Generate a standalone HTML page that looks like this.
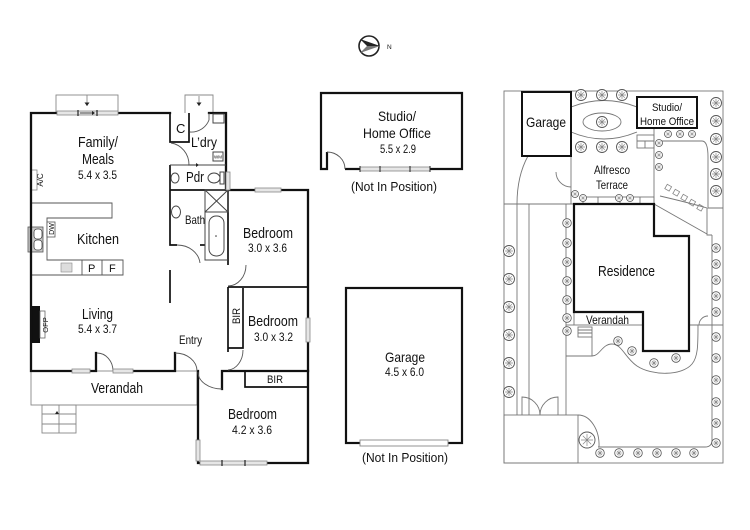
<!DOCTYPE html>
<html><head><meta charset="utf-8"><style>
html,body{margin:0;padding:0;background:#fff;}
svg{display:block;}
text{font-family:"Liberation Sans",Arial,sans-serif;fill:#111;}
</style></head><body>
<svg width="750" height="530" viewBox="0 0 750 530" xmlns="http://www.w3.org/2000/svg">
<defs>
<g id="t"><circle r="5.5" fill="#fff" stroke="#555" stroke-width="0.9"/><path d="M-4,0H4M0,-4V4M-2.8,-2.8L2.8,2.8M-2.8,2.8L2.8,-2.8" stroke="#888" stroke-width="0.7"/></g>
<g id="tm"><circle r="4.3" fill="#fff" stroke="#555" stroke-width="0.8"/><path d="M-3,0H3M0,-3V3M-2,-2L2,2M-2,2L2,-2" stroke="#888" stroke-width="0.6"/></g>
<g id="ts"><circle r="3.5" fill="#fff" stroke="#555" stroke-width="0.8"/><path d="M-2.4,0H2.4M0,-2.4V2.4M-1.7,-1.7L1.7,1.7M-1.7,1.7L1.7,-1.7" stroke="#888" stroke-width="0.5"/></g>
</defs>

<!-- ============ MAIN FLOOR PLAN ============ -->
<g fill="none" stroke="#888" stroke-width="0.9">
  <!-- deck box top -->
  <rect x="56" y="95" width="62" height="18"/>
  <path d="M87,95V106"/>
  <!-- laundry step box -->
  <path d="M185,113V95H213V113"/>
  <path d="M199,96V106"/>
  <!-- verandah -->
  <rect x="31" y="371" width="166" height="34"/>
  <!-- steps -->
  <rect x="42" y="405" width="34" height="28"/>
  <path d="M42,414H76M42,424H76M59,405V433"/>
  <!-- kitchen counters -->
  <path d="M31,203H112V218H47V260H123V275H31" stroke="#555"/>
  <path d="M82,260V275M102,260V275" stroke="#555"/>
</g>
<path d="M87,106l-2.5,-3.5h5z M199,106l-2.5,-3.5h5z M59,443" fill="#222"/>
<path d="M57,411l-2,3h4z" fill="#222"/>
<!-- cooktop -->
<rect x="61" y="263" width="11" height="9" fill="#ddd" stroke="#888" stroke-width="0.6"/>
<!-- DW box -->
<rect x="47" y="222" width="8" height="15" fill="#fff" stroke="#555" stroke-width="0.8"/>
<!-- sink -->
<rect x="28" y="227" width="15" height="25" fill="#ccc" stroke="#555" stroke-width="0.8"/>
<rect x="34" y="229" width="8" height="10" rx="3" fill="#fff" stroke="#444" stroke-width="0.8"/>
<rect x="34" y="240" width="8" height="10" rx="3" fill="#fff" stroke="#444" stroke-width="0.8"/>
<!-- A/C box -->
<rect x="31" y="170" width="6" height="20" fill="#fff" stroke="#888" stroke-width="0.8"/>
<!-- fireplace -->
<rect x="31" y="306" width="9" height="37" fill="#111"/>
<rect x="40" y="311" width="5" height="27" fill="#fff" stroke="#666" stroke-width="0.8"/>

<!-- Walls -->
<g fill="none" stroke="#111" stroke-width="2.3" stroke-linecap="square">
  <path d="M57,113H31V371H72"/>
  <path d="M118,113H170"/>
  <path d="M209,113H226V190H255"/>
  <path d="M281,190H308V318"/>
  <path d="M308,342V463H267"/>
  <path d="M200,463H198V440"/>
  <path d="M198,371V440"/>
  <path d="M222,389V371H308"/>
  <path d="M90,371H96V353"/>
  <path d="M133,371H175V353"/>
</g>
<g fill="none" stroke="#111" stroke-width="1.7">
  <path d="M170,113V142H189V113"/>
  <path d="M170,165V245H177"/>
  <path d="M200,245H205"/>
  <path d="M228,190V265"/>
  <path d="M228,287V352"/>
  <path d="M228,287H308"/>
  <path d="M170,270V303"/>
  <path d="M170,190H228"/>
  <path d="M245,371V387H308"/>
  <path d="M228,348H243V288"/>
</g>
<g fill="none" stroke="#444" stroke-width="1">
  <path d="M170,165H226"/>
  <path d="M205,190V260H228"/>
  <!-- shower -->
  <rect x="205" y="190" width="23" height="22"/>
  <path d="M205,190L228,212M228,190L205,212"/>
  <!-- tub -->
  <rect x="209" y="216" width="15" height="40" rx="7"/>
  <!-- trough -->
  <rect x="213" y="114" width="11" height="9"/>
  <!-- WM -->
  <rect x="213" y="152" width="10" height="9"/>
  <!-- toilet -->
  <ellipse cx="214" cy="178" rx="6" ry="5"/>
  <rect x="220" y="172" width="4" height="12"/>
  <!-- basins -->
  <ellipse cx="175" cy="178" rx="4" ry="5"/>
  <ellipse cx="176" cy="212" rx="4.5" ry="6"/>
</g>
<circle cx="216" cy="236" r="0.8" fill="#333"/>
<path d="M188,165h8" stroke="#222" stroke-width="0.8"/><path d="M199,165l-3,-2v4z" fill="#222"/>
<!-- door arcs -->
<g fill="none" stroke="#555" stroke-width="0.9">
  <path d="M209,113V120 A19,19 0 0 1 190,132"/>
  <path d="M171,143 A21,22 0 0 1 189,165"/>
  <path d="M177,245 A23,20 0 0 1 200,263"/>
  <path d="M246,265 A18,21 0 0 1 228,286"/>
  <path d="M243,350 A16,20 0 0 1 228,370"/>
  <path d="M175,353 A22,18 0 0 1 197,371"/>
  <path d="M198,372 A24,17 0 0 0 222,389"/>
  <path d="M97,353 A16,18 0 0 1 113,371"/>
</g>
<!-- windows -->
<g fill="#e6e6e6" stroke="#888" stroke-width="0.8">
  <rect x="57" y="111" width="61" height="4"/>
  <rect x="255" y="188" width="26" height="4"/>
  <rect x="306" y="318" width="4" height="24"/>
  <rect x="200" y="461" width="67" height="4"/>
  <rect x="196" y="440" width="4" height="21"/>
  <rect x="72" y="369" width="18" height="4"/>
  <rect x="113" y="369" width="20" height="4"/>
  <rect x="226" y="172" width="4" height="18"/>
</g>
<path d="M78,110V116M97,110V116M222,460V466M245,460V466" stroke="#222" stroke-width="1.2"/>
<path d="M80,113h12" stroke="#222" stroke-width="0.8"/><path d="M95,113l-3,-2v4z" fill="#222"/>

<!-- Labels main -->
<text x="78" y="147" font-size="15" textLength="40" lengthAdjust="spacingAndGlyphs">Family/</text>
<text x="82" y="164" font-size="15" textLength="32" lengthAdjust="spacingAndGlyphs">Meals</text>
<text x="78" y="179" font-size="11.5" textLength="39" lengthAdjust="spacingAndGlyphs">5.4 x 3.5</text>
<text x="176" y="133" font-size="13">C</text>
<text x="191" y="147" font-size="14" textLength="26" lengthAdjust="spacingAndGlyphs">L’dry</text>
<text x="214" y="158.5" font-size="4.5">WM</text>
<text x="186" y="182" font-size="15" textLength="18" lengthAdjust="spacingAndGlyphs">Pdr</text>
<text x="185" y="224" font-size="12" textLength="20" lengthAdjust="spacingAndGlyphs">Bath</text>
<text x="77" y="244" font-size="15" textLength="42" lengthAdjust="spacingAndGlyphs">Kitchen</text>
<text x="243" y="238" font-size="15" textLength="50" lengthAdjust="spacingAndGlyphs">Bedroom</text>
<text x="248" y="252" font-size="11.5" textLength="39" lengthAdjust="spacingAndGlyphs">3.0 x 3.6</text>
<text x="82" y="319" font-size="15" textLength="31" lengthAdjust="spacingAndGlyphs">Living</text>
<text x="78" y="333" font-size="11.5" textLength="39" lengthAdjust="spacingAndGlyphs">5.4 x 3.7</text>
<text x="179" y="344" font-size="12" textLength="23" lengthAdjust="spacingAndGlyphs">Entry</text>
<text x="248" y="326" font-size="15" textLength="50" lengthAdjust="spacingAndGlyphs">Bedroom</text>
<text x="254" y="341" font-size="11.5" textLength="39" lengthAdjust="spacingAndGlyphs">3.0 x 3.2</text>
<text transform="translate(240,316) rotate(-90)" text-anchor="middle" font-size="11" textLength="16" lengthAdjust="spacingAndGlyphs">BIR</text>
<text x="267" y="383" font-size="11" textLength="16" lengthAdjust="spacingAndGlyphs">BIR</text>
<text x="91" y="393" font-size="15" textLength="52" lengthAdjust="spacingAndGlyphs">Verandah</text>
<text x="228" y="419" font-size="15" textLength="49" lengthAdjust="spacingAndGlyphs">Bedroom</text>
<text x="232" y="434" font-size="11.5" textLength="40" lengthAdjust="spacingAndGlyphs">4.2 x 3.6</text>
<text transform="translate(43,180) rotate(-90)" text-anchor="middle" font-size="8">A/C</text>
<text transform="translate(48,325) rotate(-90)" text-anchor="middle" font-size="7.5">OFP</text>
<text transform="translate(54,229) rotate(-90)" text-anchor="middle" font-size="7">DW</text>
<text x="88" y="272" font-size="11">P</text>
<text x="109" y="272" font-size="11">F</text>

<!-- ============ COMPASS ============ -->
<circle cx="369" cy="46" r="10" fill="#fff" stroke="#222" stroke-width="1.6"/>
<path d="M360,39 L380,46 L367,46 Z" fill="#222"/>
<path d="M360,53 L380,46 L367,46 Z" fill="#777"/>
<text x="387" y="49" font-size="6.5">N</text>

<!-- ============ STUDIO ============ -->
<g fill="none" stroke="#111" stroke-width="2.2">
  <path d="M327,152V169H321V93H462V169H345"/>
</g>
<path d="M327,152 A18,17 0 0 1 345,169" fill="none" stroke="#555" stroke-width="0.9"/>
<rect x="360" y="167" width="70" height="4" fill="#e6e6e6" stroke="#888" stroke-width="0.8"/>
<path d="M360,166V172M380,166V172M410,166V172M430,166V172" stroke="#222" stroke-width="1"/>
<text x="378" y="121" font-size="14" textLength="38" lengthAdjust="spacingAndGlyphs">Studio/</text>
<text x="363" y="138" font-size="14" textLength="68" lengthAdjust="spacingAndGlyphs">Home Office</text>
<text x="380" y="153" font-size="11.5" textLength="36" lengthAdjust="spacingAndGlyphs">5.5 x 2.9</text>
<text x="351" y="191" font-size="13" textLength="86" lengthAdjust="spacingAndGlyphs">(Not In Position)</text>

<!-- ============ GARAGE ============ -->
<rect x="346" y="288" width="116" height="155" fill="none" stroke="#111" stroke-width="2.2"/>
<rect x="360" y="440" width="88" height="6" fill="#fff" stroke="#888" stroke-width="0.9"/>
<text x="385" y="362" font-size="14" textLength="40" lengthAdjust="spacingAndGlyphs">Garage</text>
<text x="385" y="376" font-size="11.5" textLength="39" lengthAdjust="spacingAndGlyphs">4.5 x 6.0</text>
<text x="362" y="462" font-size="13" textLength="86" lengthAdjust="spacingAndGlyphs">(Not In Position)</text>

<!-- ============ SITE PLAN ============ -->
<g fill="none" stroke="#777" stroke-width="0.9">
  <rect x="504" y="91" width="219" height="372"/>
  <path d="M571,107 Q604,94 637,107"/>
  <path d="M571,132 Q604,146 637,132"/>
  <ellipse cx="602" cy="122" rx="19" ry="9"/>
  <path d="M571,156V204"/>
  <path d="M654,128V204"/>
  <rect x="637" y="135" width="17" height="13"/>
  <path d="M637,141H654M645,141V148"/>
  <rect x="583" y="197" width="71" height="7"/>
  <path d="M598,197V204M620,197V204M640,197V204"/>
  <path d="M528,156 Q517,176 517,204V415"/>
  <path d="M529,204V415"/>
  <path d="M566,204V415"/>
  <path d="M504,204H574"/>
  <path d="M556,172 A15,15 0 0 0 571,187"/>
  <path d="M662,141H702 Q708,141 708,157V208H723"/>
  <path d="M654,204 L707,234"/>
  <path d="M660,196 Q690,203 707,208"/>
  <path d="M707,208V235H712"/>
  <path d="M712,235V440 Q712,447 705,447H598"/>
  <path d="M566,325H574"/>
  <rect x="574" y="312" width="69" height="13"/>
  <rect x="578" y="327" width="14" height="10"/>
  <path d="M578,330H592M578,333H592"/>
  <path d="M566,356H592V337"/>
  <path d="M592,356 C600,356 602,344 612,344 C622,344 625,358 637,366 C652,376 682,376 692,364 C698,357 698,345 698,325"/>
  <path d="M689,325H723"/>
  <path d="M699,325 A9,9 0 0 1 708,316"/>
  <rect x="504" y="415" width="74" height="48"/>
  <path d="M578,415 A21,30 0 0 1 599,447"/>
  <path d="M522,415V397 A18,18 0 0 1 540,415"/>
  <path d="M558,415V397 A18,18 0 0 0 540,415"/>
</g>
<g fill="none" stroke="#888" stroke-width="0.8">
  <rect x="666" y="185" width="5" height="5" transform="rotate(30 668 187)"/>
  <rect x="674" y="190" width="5" height="5" transform="rotate(30 676 192)"/>
  <rect x="682" y="195" width="5" height="5" transform="rotate(30 684 197)"/>
  <rect x="690" y="200" width="5" height="5" transform="rotate(30 692 202)"/>
  <rect x="698" y="205" width="5" height="5" transform="rotate(30 700 207)"/>
</g>
<!-- buildings -->
<g fill="#fff" stroke="#111" stroke-width="2">
  <rect x="522" y="92" width="49" height="64"/>
  <rect x="637" y="97" width="60" height="31"/>
</g>
<path d="M574,204H654V236H689V351H643V312H574Z" fill="none" stroke="#111" stroke-width="2.2"/>

<!-- trees -->
<use href="#t" x="581" y="95"/><use href="#t" x="602" y="95"/><use href="#t" x="622" y="95"/>
<use href="#t" x="581" y="147"/><use href="#t" x="602" y="147"/><use href="#t" x="622" y="147"/>
<use href="#t" x="602" y="122"/>
<use href="#ts" x="668" y="134"/><use href="#ts" x="680" y="134"/><use href="#ts" x="692" y="134"/>
<use href="#ts" x="659" y="143"/><use href="#ts" x="659" y="155"/><use href="#ts" x="659" y="167"/>
<use href="#ts" x="575" y="194"/><use href="#ts" x="583" y="198"/><use href="#ts" x="619" y="198"/><use href="#ts" x="630" y="198"/>
<use href="#t" x="716" y="103"/><use href="#t" x="716" y="121"/><use href="#t" x="716" y="139"/>
<use href="#t" x="716" y="157"/><use href="#t" x="716" y="174"/><use href="#t" x="716" y="191"/>
<use href="#tm" x="716" y="248"/><use href="#tm" x="716" y="264"/><use href="#tm" x="716" y="280"/>
<use href="#tm" x="716" y="296"/><use href="#tm" x="716" y="312"/><use href="#tm" x="716" y="337"/>
<use href="#tm" x="716" y="358"/><use href="#tm" x="716" y="380"/><use href="#tm" x="716" y="402"/>
<use href="#tm" x="716" y="423"/><use href="#tm" x="716" y="443"/>
<use href="#t" x="509" y="251"/><use href="#t" x="509" y="279"/><use href="#t" x="509" y="307"/>
<use href="#t" x="509" y="335"/><use href="#t" x="509" y="363"/><use href="#t" x="509" y="392"/>
<use href="#tm" x="567" y="223"/><use href="#tm" x="567" y="243"/><use href="#tm" x="567" y="262"/>
<use href="#tm" x="567" y="281"/><use href="#tm" x="567" y="300"/><use href="#tm" x="567" y="318"/>
<use href="#tm" x="567" y="331"/>
<use href="#tm" x="618" y="341"/><use href="#tm" x="632" y="351"/><use href="#tm" x="654" y="363"/><use href="#tm" x="676" y="358"/>
<use href="#tm" x="600" y="453"/><use href="#tm" x="619" y="453"/><use href="#tm" x="638" y="453"/>
<use href="#tm" x="657" y="453"/><use href="#tm" x="676" y="453"/><use href="#tm" x="694" y="453"/>
<g transform="translate(587,440)"><circle r="8" fill="#fff" stroke="#555" stroke-width="0.9"/><path d="M-6,0H6M0,-6V6M-4.2,-4.2L4.2,4.2M-4.2,4.2L4.2,-4.2" stroke="#888" stroke-width="0.7"/></g>

<!-- site labels -->
<text x="526" y="127" font-size="14" textLength="40" lengthAdjust="spacingAndGlyphs">Garage</text>
<text x="652" y="111" font-size="11" textLength="30" lengthAdjust="spacingAndGlyphs">Studio/</text>
<text x="640" y="125" font-size="11" textLength="54" lengthAdjust="spacingAndGlyphs">Home Office</text>
<text x="594" y="174" font-size="12" textLength="36" lengthAdjust="spacingAndGlyphs">Alfresco</text>
<text x="596" y="189" font-size="12" textLength="32" lengthAdjust="spacingAndGlyphs">Terrace</text>
<text x="598" y="276" font-size="15" textLength="57" lengthAdjust="spacingAndGlyphs">Residence</text>
<text x="586" y="324" font-size="12" textLength="43" lengthAdjust="spacingAndGlyphs">Verandah</text>
</svg>
</body></html>
